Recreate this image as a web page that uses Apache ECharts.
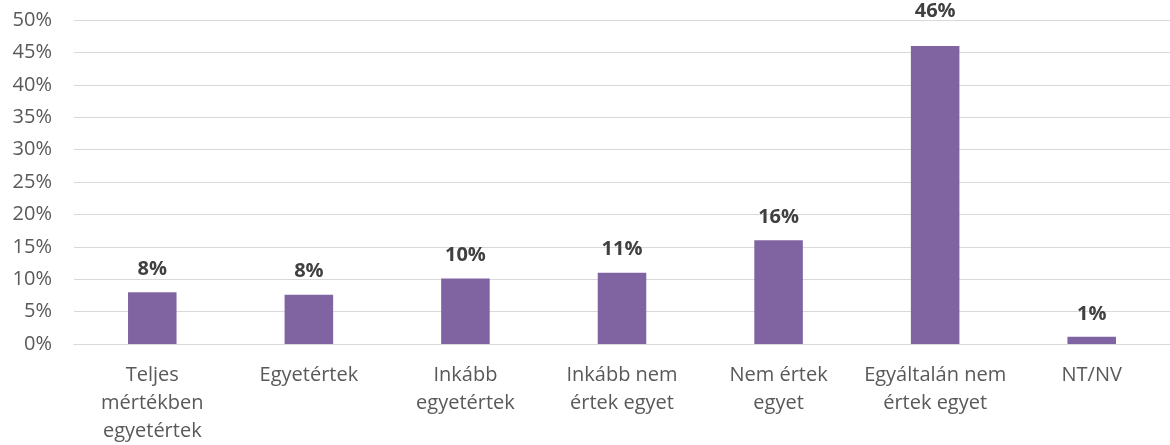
<!DOCTYPE html>
<html>
<head>
<meta charset="utf-8">
<script src="https://cdn.jsdelivr.net/npm/echarts@6/dist/echarts.min.js"></script>
<style>
  html, body { margin: 0; padding: 0; background: #fff; }
  #chart { width: 1170px; height: 445px; }
</style>
</head>
<body>
<div id="chart"></div>
<script>
const categories = [
  'Teljes\nmértékben\negyetértek',
  'Egyetértek',
  'Inkább\negyetértek',
  'Inkább nem\nértek egyet',
  'Nem értek\negyet',
  'Egyáltalán nem\nértek egyet',
  'NT/NV'
]
const values = [8.0, 7.6, 10.1, 11.0, 16.0, 46.0, 1.1]
const yTicks = [0, 5, 10, 15, 20, 25, 30, 35, 40, 45, 50]

const font = '"Open Sans", Lato, sans-serif'
const maxIdx = values.indexOf(Math.max(...values))

const chart = echarts.init(document.getElementById('chart'))
chart.setOption({
  animation: false,
  grid: { top: 20, left: 74, right: 0, bottom: 100 },
  xAxis: {
    type: 'category',
    data: categories,
    axisTick: { show: false },
    axisLine: { lineStyle: { color: '#d9d9d9', width: 1 } },
    axisLabel: {
      color: '#595959',
      fontFamily: font,
      fontSize: 20,
      lineHeight: 28,
      margin: 17,
      interval: 0
    }
  },
  yAxis: {
    type: 'value',
    min: yTicks[0],
    max: yTicks[yTicks.length - 1],
    interval: 5,
    axisLine: { show: false },
    axisTick: { show: false },
    splitLine: { lineStyle: { color: '#d9d9d9', width: 1 } },
    axisLabel: {
      color: '#595959',
      fontFamily: font,
      fontSize: 20,
      margin: 22,
      formatter: (v) => v + '%'
    }
  },
  series: [
    {
      type: 'bar',
      barWidth: '31%',
      data: values.map((v, i) => i === maxIdx ? { value: v, label: { distance: 25 } } : v),
      itemStyle: { color: '#8064a2' },
      label: {
        show: true,
        position: 'top',
        distance: 13,
        color: '#404040',
        fontFamily: font,
        fontWeight: 'bold',
        fontSize: 20,
        formatter: (p) => Math.round(p.value) + '%'
      }
    }
  ]
})
</script>
</body>
</html>
